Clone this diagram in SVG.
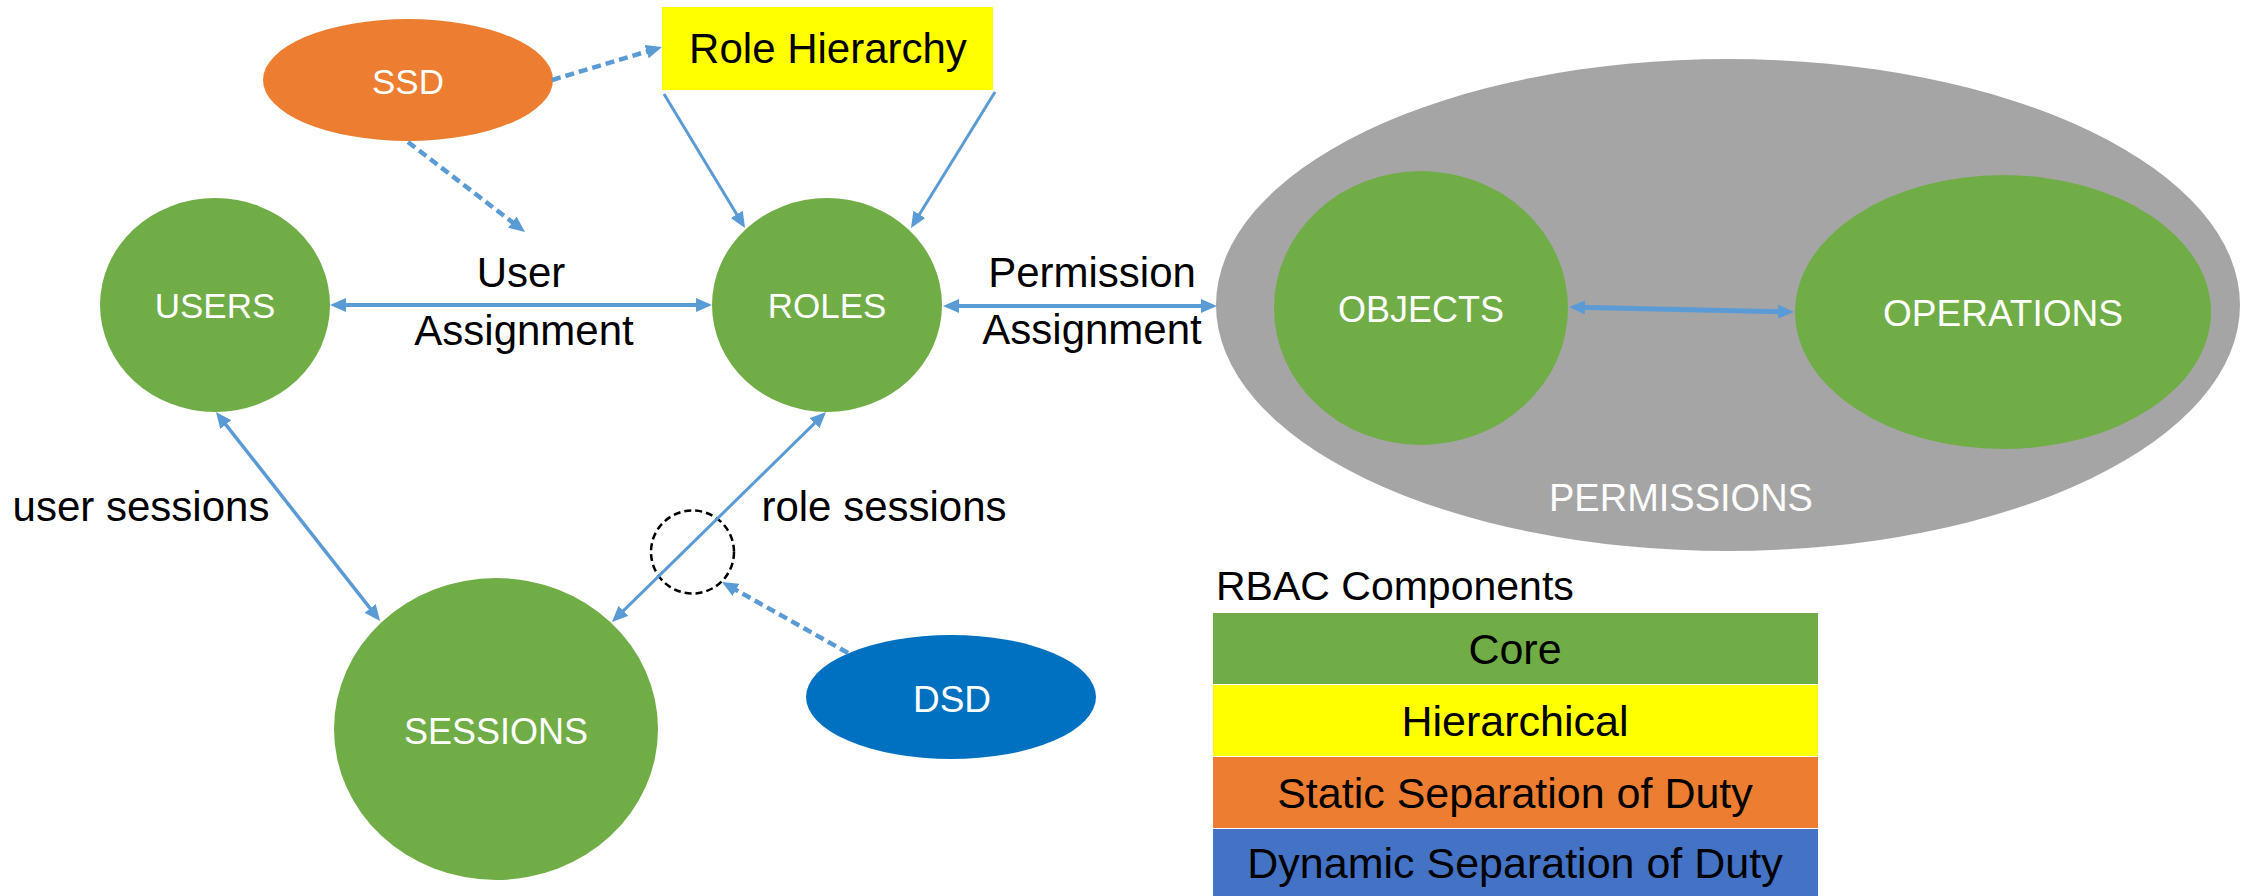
<svg xmlns="http://www.w3.org/2000/svg" width="2246" height="896" viewBox="0 0 2246 896">
  <style>
    .core { fill: #70AD47; }
    .node-label { font-family: "Liberation Sans", Arial, sans-serif; fill: #FFFFFF; text-anchor: middle; }
    .label { font-family: "Liberation Sans", Arial, sans-serif; fill: #000000; font-size: 42px; text-anchor: middle; }
    .legend-text { font-family: "Liberation Sans", Arial, sans-serif; fill: #000000; font-size: 43px; text-anchor: middle; }
    .link { stroke: #5B9BD5; fill: none; stroke-linecap: butt; }
    .dashed { stroke-dasharray: 9 5; stroke-width: 4.5; }
  </style>
  <defs>
    <marker id="arrow" viewBox="0 0 16 14" markerUnits="userSpaceOnUse" markerWidth="16" markerHeight="14" refX="8" refY="7" orient="auto-start-reverse">
      <path d="M0,0 L16,7 L0,14 z" fill="#5B9BD5"/>
    </marker>
  </defs>

  <rect width="2246" height="896" fill="#FFFFFF"/>

  <!-- Permissions container with objects and operations -->
  <g id="permissions">
    <ellipse cx="1728" cy="305" rx="512" ry="246" fill="#A5A5A5"/>
    <text class="node-label" x="1681" y="511" font-size="38">PERMISSIONS</text>
  </g>
  <g id="objects">
    <ellipse class="core" cx="1421" cy="308" rx="147" ry="137"/>
    <text class="node-label" x="1421" y="322" font-size="36">OBJECTS</text>
  </g>
  <g id="operations">
    <ellipse class="core" cx="2003" cy="312" rx="208" ry="137"/>
    <text class="node-label" x="2003" y="326" font-size="37">OPERATIONS</text>
  </g>

  <!-- Core nodes -->
  <g id="users">
    <ellipse class="core" cx="215" cy="305" rx="115" ry="107"/>
    <text class="node-label" x="215" y="318" font-size="35">USERS</text>
  </g>
  <g id="roles">
    <ellipse class="core" cx="827" cy="305" rx="115" ry="107"/>
    <text class="node-label" x="827" y="318" font-size="35">ROLES</text>
  </g>
  <g id="sessions">
    <ellipse class="core" cx="496" cy="729" rx="162" ry="151"/>
    <text class="node-label" x="496" y="744" font-size="36">SESSIONS</text>
  </g>

  <!-- Constraint nodes -->
  <g id="ssd">
    <ellipse cx="408" cy="80" rx="145" ry="61" fill="#ED7D31"/>
    <text class="node-label" x="408" y="94" font-size="35">SSD</text>
  </g>
  <g id="dsd">
    <ellipse cx="951" cy="697" rx="145" ry="62" fill="#0070C0"/>
    <text class="node-label" x="952" y="712" font-size="37">DSD</text>
  </g>
  <g id="role-hierarchy">
    <rect x="662" y="7" width="331" height="83" fill="#FFFF00"/>
    <text class="label" x="828" y="63">Role Hierarchy</text>
  </g>
  <g id="dsd-target">
    <circle cx="692.5" cy="552" r="41.5" fill="none" stroke="#000000" stroke-width="2.5" stroke-dasharray="7 4"/>
  </g>

  <!-- Connectors -->
  <g id="connectors">
    <line class="link" x1="338" y1="305" x2="704" y2="305" stroke-width="4" marker-start="url(#arrow)" marker-end="url(#arrow)"/>
    <line class="link" x1="951" y1="306" x2="1209" y2="306" stroke-width="4" marker-start="url(#arrow)" marker-end="url(#arrow)"/>
    <line class="link" x1="1577" y1="307.2" x2="1786" y2="311.8" stroke-width="5" marker-start="url(#arrow)" marker-end="url(#arrow)"/>
    <line class="link" x1="664" y1="94" x2="740.9" y2="221.2" stroke-width="3" marker-end="url(#arrow)"/>
    <line class="link" x1="995" y1="92" x2="915.2" y2="221.2" stroke-width="3" marker-end="url(#arrow)"/>
    <line class="link" x1="220.9" y1="418.3" x2="375.1" y2="614.7" stroke-width="3.5" marker-start="url(#arrow)" marker-end="url(#arrow)"/>
    <line class="link" x1="820.3" y1="417.6" x2="617.7" y2="616.4" stroke-width="3" marker-start="url(#arrow)" marker-end="url(#arrow)"/>
    <line class="link dashed" x1="552" y1="80" x2="654.3" y2="49.3" marker-end="url(#arrow)"/>
    <line class="link dashed" x1="408" y1="142" x2="518.7" y2="227.1" marker-end="url(#arrow)"/>
    <line class="link dashed" x1="848" y1="653" x2="729" y2="586" marker-end="url(#arrow)"/>
  </g>

  <!-- Connector labels -->
  <g id="labels">
    <text class="label" x="521" y="287">User</text>
    <text class="label" x="524" y="345">Assignment</text>
    <text class="label" x="1092" y="287">Permission</text>
    <text class="label" x="1092" y="344">Assignment</text>
    <text class="label" x="141" y="521">user sessions</text>
    <text class="label" x="884" y="521">role sessions</text>
  </g>

  <!-- Legend -->
  <g id="legend">
    <text x="1216" y="600" font-family="'Liberation Sans', Arial, sans-serif" font-size="41" fill="#000000">RBAC Components</text>
    <rect x="1213" y="613" width="605" height="71" fill="#70AD47"/>
    <rect x="1213" y="685" width="605" height="71" fill="#FFFF00"/>
    <rect x="1213" y="757" width="605" height="71" fill="#ED7D31"/>
    <rect x="1213" y="829" width="605" height="67" fill="#4472C4"/>
    <text class="legend-text" x="1515" y="664">Core</text>
    <text class="legend-text" x="1515" y="736">Hierarchical</text>
    <text class="legend-text" x="1515" y="808">Static Separation of Duty</text>
    <text class="legend-text" x="1515" y="878">Dynamic Separation of Duty</text>
  </g>
</svg>
